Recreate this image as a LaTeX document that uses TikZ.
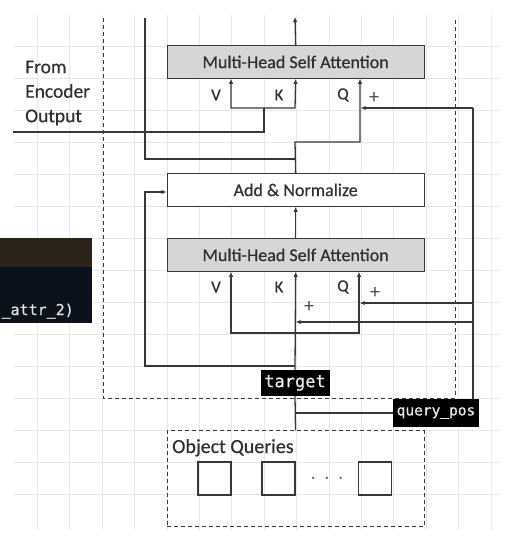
\documentclass[tikz,border=0pt]{standalone}
\usepackage{fontspec}
\setmainfont{Carlito}[FakeBold=0.5]
\newfontfamily\plainfont{Carlito}
\newfontfamily\codefont{DejaVu Sans Mono}[FakeBold=0.6]
\usetikzlibrary{arrows.meta}
\definecolor{darkbrown}{HTML}{2B2219}
\definecolor{darknavy}{HTML}{0C121C}
\definecolor{lncol}{HTML}{383838}
\definecolor{txtcol}{HTML}{303030}
\begin{document}
\begin{tikzpicture}[x=1pt,y=-1pt,
 line/.style={draw=lncol, line width=1.3pt},
 arr/.style={line, -{Latex[length=5pt,width=4.5pt]}},
 darr/.style={line, {Latex[length=5pt,width=4.5pt]}-{Latex[length=5pt,width=4.5pt]}},
 block/.style={draw=lncol, line width=1.3pt, minimum width=257pt, minimum height=32.5pt, anchor=north west, inner sep=0pt, font=\fontsize{18}{20}\selectfont, text=txtcol, fill=white},
 mha/.style={block, fill=black!16},
 lbl/.style={font=\fontsize{17}{18}\selectfont, text=txtcol, inner sep=0pt},
 plus/.style={font=\plainfont\fontsize{20}{20}\selectfont, text=black!70, inner sep=0pt},
 code/.style={fill=black, text=white!92!black, inner sep=0pt},
 dashbox/.style={draw=lncol, line width=1pt, dash pattern=on 4pt off 3pt},
 gridline/.style={draw=black!9, line width=0.8pt},
 sqbox/.style={draw=lncol, line width=1.2pt, minimum size=33pt, inner sep=0pt}]
\useasboundingbox (0,0) rectangle (523,538);
% background grid
\foreach \i in {1,...,15} \draw[gridline] ({5+32.4*\i},15) -- ({5+32.4*\i},530);
\foreach \j in {1,...,15} \draw[gridline] (13,{14.5+32*\j}) -- (500,{14.5+32*\j});
% left dark panel
\fill[darkbrown] (0,238) rectangle (92,267);
\fill[darknavy] (0,267) rectangle (92,323);
\node[anchor=base east, text=white!88!black, font=\codefont\fontsize{15}{18}\selectfont, inner sep=0pt] (attr) at (74,315) {\_attr\_2)};
% outer dashed decoder layer
\draw[dashbox] (103,18) -- (103,398) -- (455,398) -- (455,18);
% blocks
\node[mha] (mhaA) at (166.5,45) {Multi-Head Self Attention};
\node[block] (addn) at (166.5,173) {Add \& Normalize};
\node[mha] (mhaB) at (166.5,238) {Multi-Head Self Attention};
\node[code, font=\codefont\fontsize{17}{20}\selectfont, minimum width=69pt, minimum height=26pt] (tgt) at (295,383) {target};
\node[code, font=\codefont\fontsize{14.5}{17}\selectfont, minimum width=86pt, minimum height=28pt] (qpos) at (436,413) {query\_pos};
\node[dashbox, minimum width=257pt, minimum height=96pt, anchor=north west, inner sep=0pt] (oq) at (166.5,430) {};
\node[anchor=base west, font=\fontsize{20}{24}\selectfont, text=txtcol, inner sep=0pt] (oqlbl) at (172,453) {Object Queries};
\node[sqbox] (s1) at (214.5,478.5) {};
\node[sqbox] (s2) at (278.5,478.5) {};
\node[sqbox] (s3) at (375,478.5) {};
\node[font=\fontsize{20}{20}\selectfont, text=black!70] (dots) at (327,479) {$\cdot\,\cdot\,\cdot$};
% labels
\node[lbl, anchor=west, align=left, font=\fontsize{19.5}{24.5}\selectfont] (enc) at (25,93) {From\\Encoder\\Output};
\node[lbl] (vA) at (216,95) {V};
\node[lbl] (kA) at (279,95) {K};
\node[lbl] (qA) at (343,95) {Q};
\node[plus] (pA) at (374,98) {+};
\node[lbl] (vB) at (216,287) {V};
\node[lbl] (kB) at (279,287) {K};
\node[lbl] (qB) at (343,287) {Q};
\node[plus] (pB1) at (375,293) {+};
\node[plus] (pB2) at (309,307) {+};
% coordinates
\coordinate (topout) at (295,17);
\coordinate (resTop) at (145,18);
\coordinate (resJ) at (295,159);
\coordinate (encEnd) at (13,132);
\coordinate (qposTop) at (473,108);
\coordinate (tgtJ) at (295,366);
% top layer connectors
\draw[arr] (mhaA.north) -- (topout);
\draw[line] (resTop) |- (resJ);
\draw[arr] (addn.north) -- (295,142) -| (360,0 |- mhaA.south);
\draw[line] (encEnd) -| (264,108);
\draw[darr] (231,0 |- mhaA.south) -- (231,108) -- (295,108) -- (mhaA.south);
\draw[line] (473,0 |- qpos.north) -- (qposTop);
\draw[arr] (qposTop) -- (360.7,108);
% bottom layer connectors
\draw[arr] (mhaB.north) -- (addn.south);
\draw[arr] (tgtJ) -| (145,192) -- (166.5,192);
\draw[arr] (tgt.north) -- (mhaB.south);
\draw[darr] (231,0 |- mhaB.south) -- (231,333) -- (359,333) -- (359,0 |- mhaB.south);
\draw[arr] (473,303) -- (359.7,303);
\draw[arr] (473,322) -- (295.7,322);
% target / query_pos / object queries
\draw[line] (tgt.south) -- (oq.north);
\draw[line] (295,413) -- (qpos.west);
\end{tikzpicture}
\end{document}
